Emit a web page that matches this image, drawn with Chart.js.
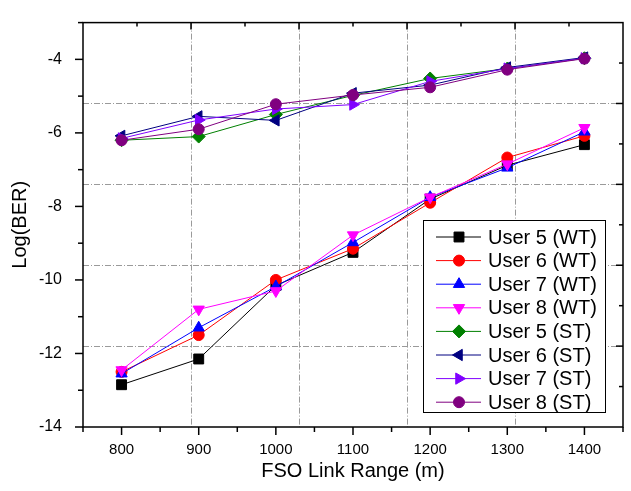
<!DOCTYPE html>
<html>
<head>
<meta charset="utf-8">
<title>Log(BER) vs FSO link range</title>
<script src="https://cdn.jsdelivr.net/npm/chart.js@4"></script>
<style>
  html, body { margin: 0; padding: 0; background: #fff; }
  canvas { display: block; }
</style>
</head>
<body>
<canvas id="berChart" width="631" height="491"></canvas>
<script>
// link range (m) and tick values
const linkRange = [800, 900, 1000, 1100, 1200, 1300, 1400];
const xTickValues = [800, 900, 1000, 1100, 1200, 1300, 1400];
const yTickValues = [-14, -12, -10, -8, -6, -4];

// Log(BER) per user, without turbulence (WT) and with strong turbulence (ST)
const user5WT = [-12.85, -12.15, -10.15, -9.25, -7.8, -6.88, -6.32];
const user6WT = [-12.5, -11.5, -10.0, -9.15, -7.9, -6.67, -6.08];
const user7WT = [-12.55, -11.3, -10.18, -8.98, -7.75, -6.95, -5.97];
const user8WT = [-12.45, -10.8, -10.3, -8.78, -7.75, -6.85, -5.86];
const user5ST = [-6.2, -6.1, -5.5, -4.98, -4.52, -4.25, -3.97];
const user6ST = [-6.08, -5.55, -5.66, -4.92, -4.7, -4.22, -3.95];
const user7ST = [-6.15, -5.65, -5.35, -5.23, -4.6, -4.25, -3.97];
const user8ST = [-6.2, -5.9, -5.22, -4.97, -4.76, -4.28, -3.98];

const seriesNames = ['User 5 (WT)', 'User 6 (WT)', 'User 7 (WT)', 'User 8 (WT)',
                     'User 5 (ST)', 'User 6 (ST)', 'User 7 (ST)', 'User 8 (ST)'];
const seriesValues = [user5WT, user6WT, user7WT, user8WT, user5ST, user6ST, user7ST, user8ST];

const seriesStyle = [
  { color: '#000000', point: 'rect',     rotation: 0,   radius: 7 },
  { color: '#ff0000', point: 'circle',   rotation: 0,   radius: 5.5 },
  { color: '#0000ff', point: 'triangle', rotation: 0,   radius: 6.5 },
  { color: '#ff00ff', point: 'triangle', rotation: 180, radius: 6.5 },
  { color: '#008000', point: 'rectRot',  rotation: 0,   radius: 6.5 },
  { color: '#000080', point: 'triangle', rotation: 270, radius: 6.5 },
  { color: '#8000ff', point: 'triangle', rotation: 90,  radius: 6.5 },
  { color: '#800080', point: 'circle',   rotation: 0,   radius: 5.5 }
];

Chart.defaults.font.family = "'Liberation Sans', Arial, sans-serif";
Chart.defaults.color = '#000';

const datasets = seriesNames.map((name, i) => ({
  label: name,
  data: linkRange.map((x, j) => ({ x: x, y: seriesValues[i][j] })),
  borderColor: seriesStyle[i].color,
  backgroundColor: seriesStyle[i].color,
  borderWidth: 1,
  pointStyle: seriesStyle[i].point,
  pointRotation: seriesStyle[i].rotation,
  pointRadius: seriesStyle[i].radius,
  pointBorderWidth: 1,
  pointBorderColor: seriesStyle[i].color,
  pointBackgroundColor: seriesStyle[i].color,
  // later series are painted on top
  order: seriesNames.length - i,
  tension: 0
}));

function drawTick(ctx, x1, y1, x2, y2) {
  ctx.beginPath();
  ctx.moveTo(x1, y1);
  ctx.lineTo(x2, y2);
  ctx.stroke();
}

// dash-dot grid at fifths of each range, plot frame and all tick marks
const framePlugin = {
  id: 'frame',
  beforeDatasetsDraw(chart) {
    const { ctx, chartArea: ca, scales: { x, y } } = chart;
    ctx.save();
    ctx.strokeStyle = '#9a9a9a';
    ctx.lineWidth = 1;
    ctx.setLineDash([6, 2, 1, 2]);
    for (let k = 1; k < 5; k++) {
      const gx = Math.round(x.getPixelForValue(x.min + (x.max - x.min) * k / 5)) + 0.5;
      drawTick(ctx, gx, ca.top, gx, ca.bottom);
      const gy = Math.round(y.getPixelForValue(y.min + (y.max - y.min) * k / 5)) + 0.5;
      drawTick(ctx, ca.left, gy, ca.right, gy);
    }
    ctx.setLineDash([]);

    ctx.strokeStyle = '#000';
    ctx.lineWidth = 1.5;
    // bottom axis: majors every 100, minors between, pointing out
    for (let v = x.min; v <= x.max; v += 50) {
      const px = x.getPixelForValue(v);
      const len = (v % 100 === 0) ? 8 : 5;
      drawTick(ctx, px, ca.bottom, px, ca.bottom + len);
    }
    // left axis: majors every 2, minors every 1, pointing out
    for (let v = y.min; v <= y.max; v += 1) {
      const py = y.getPixelForValue(v);
      const len = (v % 2 === 0) ? 8 : 5;
      drawTick(ctx, ca.left, py, ca.left - len, py);
    }
    // top and right axes: ticks at tenths, longer at fifths, pointing in
    for (let k = 1; k < 10; k++) {
      const px = x.getPixelForValue(x.min + (x.max - x.min) * k / 10);
      const py = y.getPixelForValue(y.min + (y.max - y.min) * k / 10);
      const len = (k % 2 === 0) ? 7 : 4;
      drawTick(ctx, px, ca.top, px, ca.top + len);
      drawTick(ctx, ca.right, py, ca.right - len, py);
    }
    ctx.lineWidth = 1.5;
    ctx.strokeRect(ca.left, ca.top, ca.right - ca.left, ca.bottom - ca.top);
    ctx.restore();
  }
};

// boxed legend in the lower right of the plot
const legendPlugin = {
  id: 'boxLegend',
  afterDraw(chart) {
    const { ctx, chartArea: ca } = chart;
    const boxL = ca.right - 200, boxT = ca.bottom - 207, boxW = 182, boxH = 192;
    ctx.save();
    ctx.fillStyle = '#fff';
    ctx.fillRect(boxL, boxT, boxW, boxH);
    ctx.strokeStyle = '#000';
    ctx.lineWidth = 1;
    ctx.strokeRect(boxL + 0.5, boxT + 0.5, boxW, boxH);
    ctx.font = "20px 'Liberation Sans', Arial, sans-serif";
    ctx.textBaseline = 'middle';
    ctx.textAlign = 'left';
    seriesNames.forEach((name, i) => {
      const st = seriesStyle[i];
      const cy = boxT + 17 + i * 23.6;
      ctx.strokeStyle = st.color;
      ctx.lineWidth = 1;
      drawTick(ctx, boxL + 13, cy, boxL + 58, cy);
      ctx.fillStyle = st.color;
      Chart.helpers.drawPoint(ctx, {
        pointStyle: st.point,
        rotation: st.rotation,
        radius: st.radius,
        borderWidth: 1
      }, boxL + 36, cy);
      ctx.fillStyle = '#000';
      ctx.fillText(name, boxL + 65, cy + 1);
    });
    ctx.restore();
  }
};

new Chart(document.getElementById('berChart'), {
  type: 'line',
  data: { datasets: datasets },
  options: {
    responsive: false,
    animation: false,
    devicePixelRatio: 1,
    layout: { padding: { top: 10, right: 6, left: 0, bottom: 0 } },
    plugins: {
      legend: { display: false },
      tooltip: { enabled: false }
    },
    scales: {
      x: {
        type: 'linear',
        min: 750,
        max: 1450,
        afterBuildTicks: scale => { scale.ticks = xTickValues.map(v => ({ value: v })); },
        afterFit: scale => { scale.height = 64; },
        grid: { display: false },
        border: { display: false },
        ticks: { font: { size: 15 }, padding: 6, maxRotation: 0, callback: v => String(v) },
        title: {
          display: true,
          text: 'FSO Link Range (m)',
          font: { size: 20 },
          padding: { top: 0, bottom: 8 }
        }
      },
      y: {
        type: 'linear',
        min: -14,
        max: -3,
        afterBuildTicks: scale => { scale.ticks = yTickValues.map(v => ({ value: v })); },
        afterFit: scale => { scale.width = 83; },
        grid: { display: false },
        border: { display: false },
        ticks: { font: { size: 16 }, padding: 13, callback: v => String(v) },
        title: {
          display: true,
          text: 'Log(BER)',
          font: { size: 20 },
          padding: { top: 8, bottom: 0 }
        }
      }
    }
  },
  plugins: [framePlugin, legendPlugin]
});
</script>
</body>
</html>
